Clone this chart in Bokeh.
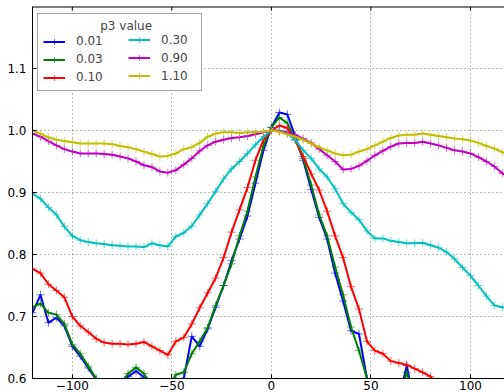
from bokeh.plotting import figure
from bokeh.embed import file_html
from bokeh.resources import INLINE
from bokeh.models import (ColumnDataSource, FixedTicker, LinearAxis, Legend,
                          LegendItem, CustomJSTickFormatter, Range1d, Span)

x = [-120, -116, -112, -108, -104, -100, -96, -92, -88, -84, -80, -76, -72, -68, -64,
     -60, -56, -52, -48, -44, -40, -36, -32, -28, -24, -20, -16, -12, -8, -4, 0,
     4, 8, 12, 16, 20, 24, 28, 32, 36, 40, 44, 48, 52, 56, 60, 64, 68, 72, 76, 80,
     84, 88, 92, 96, 100, 104, 108, 112, 116, 120]

p3_labels = ["0.01", "0.03", "0.10", "0.30", "0.90", "1.10"]
colors = ["#0000ff", "#008000", "#ff0000", "#00bfbf", "#bf00bf", "#bfbf00"]

x_ticks = [-100, -50, 0, 50, 100]
y_ticks = [0.6, 0.7, 0.8, 0.9, 1.0, 1.1]

y_001 = [0.706, 0.735, 0.690, 0.698, 0.685, 0.652, 0.636, 0.617, 0.598, 0.583, 0.572,
         0.585, 0.603, 0.612, 0.602, 0.580, 0.565, 0.580, 0.598, 0.600, 0.668, 0.652,
         0.680, 0.715, 0.750, 0.790, 0.825, 0.862, 0.915, 0.968, 1.005, 1.029, 1.026,
         0.990, 0.952, 0.905, 0.860, 0.825, 0.770, 0.725, 0.677, 0.672, 0.600, 0.555,
         0.535, 0.535, 0.565, 0.621, 0.555, 0.535, 0.525, 0.515, 0.505, 0.500, 0.495,
         0.490, 0.485, 0.480, 0.475, 0.470, 0.465]
y_003 = [0.715, 0.721, 0.706, 0.703, 0.688, 0.655, 0.640, 0.620, 0.600, 0.585, 0.575,
         0.590, 0.608, 0.618, 0.608, 0.585, 0.570, 0.585, 0.606, 0.610, 0.640, 0.660,
         0.682, 0.718, 0.750, 0.785, 0.830, 0.870, 0.925, 0.975, 1.005, 1.021, 1.012,
         0.985, 0.955, 0.912, 0.864, 0.830, 0.780, 0.735, 0.683, 0.645, 0.600, 0.560,
         0.540, 0.540, 0.570, 0.610, 0.560, 0.540, 0.530, 0.520, 0.510, 0.505, 0.500,
         0.495, 0.490, 0.485, 0.480, 0.475, 0.470]
y_010 = [0.777, 0.770, 0.752, 0.742, 0.731, 0.700, 0.685, 0.675, 0.664, 0.658, 0.656,
         0.656, 0.655, 0.656, 0.659, 0.652, 0.645, 0.638, 0.660, 0.666, 0.688, 0.714,
         0.738, 0.762, 0.795, 0.836, 0.872, 0.908, 0.952, 0.985, 1.000, 1.008, 1.004,
         0.985, 0.958, 0.930, 0.904, 0.870, 0.830, 0.795, 0.748, 0.712, 0.660, 0.645,
         0.640, 0.628, 0.625, 0.622, 0.616, 0.610, 0.603, 0.590, 0.575, 0.565, 0.555,
         0.545, 0.540, 0.535, 0.530, 0.525, 0.520]
y_030 = [0.898, 0.890, 0.876, 0.864, 0.845, 0.830, 0.823, 0.820, 0.818, 0.817, 0.815,
         0.814, 0.813, 0.813, 0.812, 0.818, 0.815, 0.813, 0.829, 0.835, 0.846, 0.864,
         0.882, 0.902, 0.922, 0.938, 0.950, 0.963, 0.977, 0.990, 1.000, 1.000, 0.995,
         0.985, 0.968, 0.955, 0.938, 0.925, 0.906, 0.882, 0.868, 0.856, 0.838, 0.826,
         0.826, 0.822, 0.820, 0.818, 0.818, 0.819, 0.815, 0.811, 0.804, 0.793, 0.779,
         0.766, 0.750, 0.733, 0.718, 0.715, 0.715]
y_090 = [0.995, 0.990, 0.983, 0.976, 0.970, 0.966, 0.963, 0.963, 0.963, 0.962, 0.961,
         0.958, 0.955, 0.950, 0.944, 0.941, 0.934, 0.932, 0.936, 0.945, 0.955, 0.967,
         0.976, 0.982, 0.985, 0.988, 0.989, 0.991, 0.994, 0.997, 1.000, 0.999, 0.997,
         0.993, 0.987, 0.980, 0.970, 0.960, 0.950, 0.937, 0.938, 0.943, 0.951, 0.960,
         0.967, 0.974, 0.979, 0.980, 0.980, 0.982, 0.979, 0.976, 0.972, 0.968, 0.966,
         0.963, 0.957, 0.950, 0.942, 0.931, 0.922]
y_110 = [1.000, 0.995, 0.989, 0.985, 0.983, 0.981, 0.979, 0.979, 0.979, 0.979, 0.978,
         0.975, 0.973, 0.970, 0.966, 0.962, 0.958, 0.959, 0.963, 0.970, 0.973, 0.980,
         0.990, 0.995, 0.997, 0.997, 0.996, 0.997, 0.997, 0.998, 1.000, 0.998, 0.994,
         0.990, 0.985, 0.979, 0.973, 0.968, 0.963, 0.960, 0.961, 0.966, 0.970, 0.976,
         0.982, 0.988, 0.992, 0.993, 0.993, 0.995, 0.993, 0.991, 0.989, 0.987, 0.986,
         0.984, 0.980, 0.975, 0.971, 0.965, 0.960]

series = [y_001, y_003, y_010, y_030, y_090, y_110]

FONT = "DejaVu Sans"
X0, X1 = -120, 117.1
Y0, Y1 = 0.6, 1.2

p = figure(width=504, height=392, output_backend="svg", toolbar_location=None,
           x_range=Range1d(X0, X1), y_range=Range1d(Y0, Y1),
           min_border_left=32, min_border_right=0, min_border_top=6,
           min_border_bottom=0, x_axis_location=None, y_axis_location=None)
p.outline_line_color = None
p.background_fill_color = "white"
p.border_fill_color = "white"

xfmt = CustomJSTickFormatter(code="""
var s = Math.abs(Math.round(tick)).toString();
return tick < 0 ? '\\u2212' + s : s;
""")
yfmt = CustomJSTickFormatter(code="return tick.toFixed(1);")

xt = FixedTicker(ticks=x_ticks)
yt = FixedTicker(ticks=y_ticks)

def style_axis(ax, standoff):
    ax.axis_line_color = "black"
    ax.axis_line_width = 1
    ax.major_tick_in = 4
    ax.major_tick_out = 0
    ax.minor_tick_in = 0
    ax.minor_tick_out = 0
    ax.major_tick_line_color = "black"
    ax.major_label_text_font = FONT
    ax.major_label_text_font_size = "12px"
    ax.major_label_text_color = "black"
    ax.major_label_standoff = standoff

xb = LinearAxis(ticker=xt, formatter=xfmt)
style_axis(xb, 2)
p.add_layout(xb, "below")
yl = LinearAxis(ticker=yt, formatter=yfmt)
style_axis(yl, 6)
p.add_layout(yl, "left")

# top spine with inward ticks
p.add_layout(Span(location=Y1, dimension="width", line_color="black", line_width=2))
tick_len = 4 * (Y1 - Y0) / 371.0
p.segment(x0=x_ticks, y0=[Y1] * len(x_ticks), x1=x_ticks,
          y1=[Y1 - tick_len] * len(x_ticks), line_color="black", line_width=1)

p.xgrid.ticker = xt
p.ygrid.ticker = yt
for g in (p.xgrid, p.ygrid):
    g.grid_line_color = "black"
    g.grid_line_alpha = 0.55
    g.grid_line_dash = "1 3"
    g.grid_line_width = 1

items = []
for lab, col, ys in zip(p3_labels, colors, series):
    src = ColumnDataSource(dict(x=x, y=ys))
    r1 = p.line("x", "y", source=src, line_color=col, line_width=2)
    r2 = p.scatter("x", "y", source=src, marker="cross", size=8,
                   line_color=col, line_width=1, line_alpha=0.6)
    items.append(LegendItem(label=lab, renderers=[r1, r2]))

def make_legend(its, title, loc, boxed, lw):
    lg = Legend(items=its, location=loc, orientation="vertical")
    if title is not None:
        lg.title = title
    lg.title_text_font = FONT
    lg.title_text_font_size = "12px"
    lg.title_text_font_style = "normal"
    lg.label_text_font = FONT
    lg.label_text_font_size = "12px"
    if boxed:
        lg.border_line_color = "#444444"
        lg.border_line_width = 1.5
        lg.background_fill_color = "white"
        lg.background_fill_alpha = 1
    else:
        lg.border_line_color = None
        lg.background_fill_alpha = 0
    lg.margin = 0
    lg.padding = 5
    lg.spacing = 3
    lg.glyph_width = 22
    lg.glyph_height = 15
    lg.label_height = 15
    lg.label_width = lw
    lg.label_standoff = 11
    lg.title_standoff = 1
    return lg

title_txt = "\u00a0" * 15 + "p3 value"
leg_a = make_legend(items[:3], title_txt, (5, 287.5), True, 120)
leg_b = make_legend(items[3:], None, (96, 295), False, 20)
p.add_layout(leg_a, "center")
p.add_layout(leg_b, "center")

open("out.html", "w").write(file_html(p, INLINE))
